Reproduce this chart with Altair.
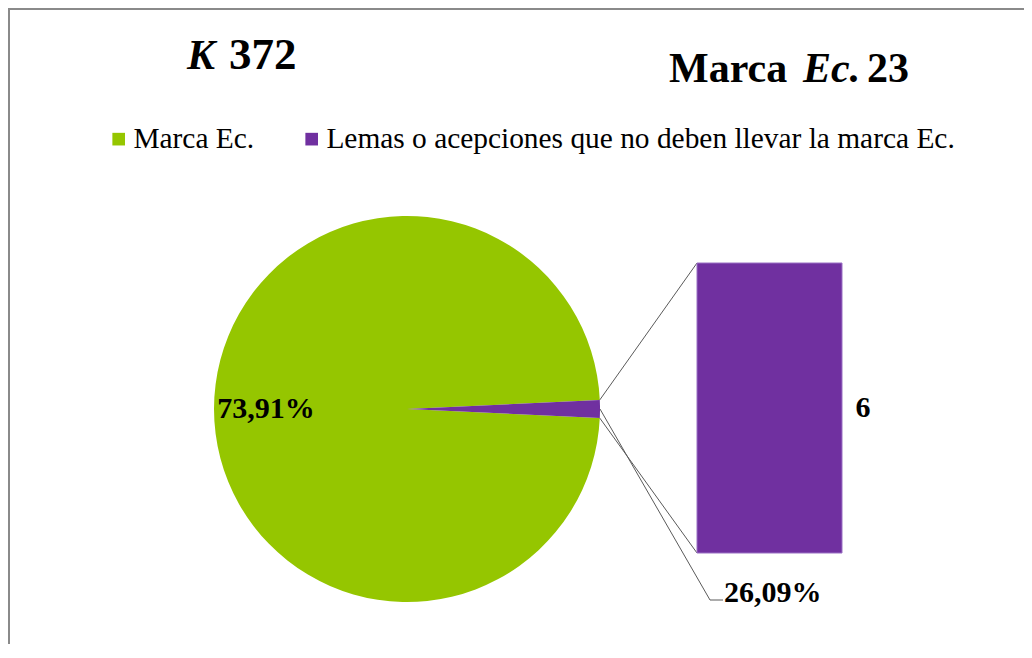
import math
import altair as alt
import pandas as pd

# ---------------- data ----------------
categories = ["Marca Ec.", "Lemas o acepciones que no deben llevar la marca Ec."]
counts = [17, 6]                 # 17 + 6 = 23
pie_share = [98.5, 1.5]          # share of the pie as drawn (percent)
bar_values = [6]                 # secondary bar (the "other" part)
title_left = ["K", "372"]
title_right = ["Marca", "Ec.", "23"]

total = sum(counts)
pct_labels = [f"{c / total * 100:.2f}".replace(".", ",") + "%" for c in counts]

# ---------------- style / layout ----------------
GREEN = "#95C600"
PURPLE = "#7030A0"
SERIF = "Liberation Serif"
LINE = "#5a5a5a"
BORDER = "#8a8a8a"
W, H = 1016, 636
CX, CY, R = 399, 401, 193
BAR_X0, BAR_X1 = 689, 834
BAR_TOP, BAR_BOTTOM = 255, 545

half = pie_share[1] * 3.6 / 2
arc_df = pd.DataFrame({
    "cat": categories,
    "start": [90 + half, 90 - half],
    "end": [90 + half + pie_share[0] * 3.6, 90 + half],
})
arc_df["mid"] = (arc_df["start"] + arc_df["end"]) / 2
theta_scale = alt.Scale(domain=[0, 360], range=[0, 2 * math.pi])
color_scale = alt.Scale(domain=categories, range=[GREEN, PURPLE])

pie = alt.Chart(arc_df).mark_arc(radius=R, strokeWidth=0).encode(
    theta=alt.Theta("start:Q", scale=theta_scale),
    theta2="end:Q",
    x=alt.value(CX), y=alt.value(CY),
    color=alt.Color(
        "cat:N", scale=color_scale,
        legend=alt.Legend(
            title=None, orient="none", legendX=96, legendY=116,
            direction="horizontal", symbolType="square", symbolSize=160,
            symbolStrokeWidth=0, labelFont=SERIF, labelFontSize=29.4,
            labelColor="black", labelLimit=1000, columnPadding=42,
            labelOffset=0,
        ),
    ),
)

pie_label = alt.Chart(arc_df.iloc[[0]].assign(text=pct_labels[0])).mark_text(
    font=SERIF, fontSize=30, fontWeight="bold", color="black",
    align="center", baseline="middle",
).encode(
    theta=alt.Theta("mid:Q", scale=theta_scale),
    radius=alt.value(141),
    x=alt.value(CX), y=alt.value(CY),
    text="text:N",
)

bar_df = pd.DataFrame({"cat": [categories[1]], "value": bar_values})
bar_df["mid"] = bar_df["value"] / 2
y_bar = alt.Scale(domain=[0, max(bar_values)], range=[BAR_BOTTOM, BAR_TOP])
bar = alt.Chart(bar_df).mark_bar(color=PURPLE, stroke="#9a70c4", strokeWidth=1).encode(
    x=alt.value(BAR_X0), x2=alt.value(BAR_X1),
    y=alt.Y("value:Q", scale=y_bar, axis=None),
    y2=alt.datum(0),
)
bar_label = alt.Chart(bar_df).mark_text(
    font=SERIF, fontSize=30, fontWeight="bold", color="black",
    align="center", baseline="middle",
).encode(
    x=alt.value(BAR_X1 + 21),
    y=alt.Y("mid:Q", scale=y_bar, axis=None),
    text="value:Q",
)

one = pd.DataFrame({"a": [0]})


def seg(x1, y1, x2, y2, color=LINE, width=1.0):
    return alt.Chart(one).mark_rule(color=color, strokeWidth=width).encode(
        x=alt.value(x1), y=alt.value(y1), x2=alt.value(x2), y2=alt.value(y2)
    )


def polar(deg):
    t = math.radians(deg)
    return CX + R * math.sin(t), CY - R * math.cos(t)


tx, ty = polar(90 - half)
bx, by = polar(90 + half)
mx, my = polar(90)
lead_x, lead_y = 702, 592
connectors = [
    seg(tx, ty, BAR_X0, BAR_TOP),
    seg(bx, by, BAR_X0, BAR_BOTTOM),
    seg(mx, my, lead_x, lead_y),
    seg(lead_x, lead_y, lead_x + 13, lead_y),
]

other_label = alt.Chart(pd.DataFrame({"text": [pct_labels[1]]})).mark_text(
    font=SERIF, fontSize=30, fontWeight="bold", color="black",
    align="left", baseline="alphabetic",
).encode(x=alt.value(lead_x + 14), y=alt.value(lead_y + 2), text="text:N")

# frame of the chart area (top and left edges only are visible)
border_top = alt.Chart(one).mark_rule(color=BORDER, strokeWidth=2).encode(
    y=alt.value(1), x=alt.value(0), x2=alt.value(W)
)
border_left = alt.Chart(one).mark_rule(color=BORDER, strokeWidth=2).encode(
    x=alt.value(1), y=alt.value(0), y2=alt.value(H)
)


def title_text(txt, x, y, size, italic):
    return alt.Chart(pd.DataFrame({"t": [txt]})).mark_text(
        font=SERIF, fontSize=size, fontWeight="bold",
        fontStyle="italic" if italic else "normal", color="black",
        align="left", baseline="alphabetic",
    ).encode(x=alt.value(x), y=alt.value(y), text="t:N")


titles = [
    title_text(title_left[0], 179, 61, 42, True),
    title_text(title_left[1], 221, 61, 45, False),
    title_text(title_right[0], 661, 74, 42, False),
    title_text(title_right[1], 795, 74, 42, True),
    title_text(title_right[2], 859, 74, 42, False),
]

chart = alt.layer(
    border_top, border_left, pie, pie_label, *connectors, bar, bar_label,
    other_label, *titles
).resolve_scale(
    theta="independent", y="independent", color="independent"
).properties(
    width=W, height=H, padding=0, autosize=alt.AutoSizeParams(type="none"),
    background="white",
).configure_view(strokeWidth=0, stroke="transparent")

chart.save("out.html", embed_options={"renderer": "svg", "actions": False})
